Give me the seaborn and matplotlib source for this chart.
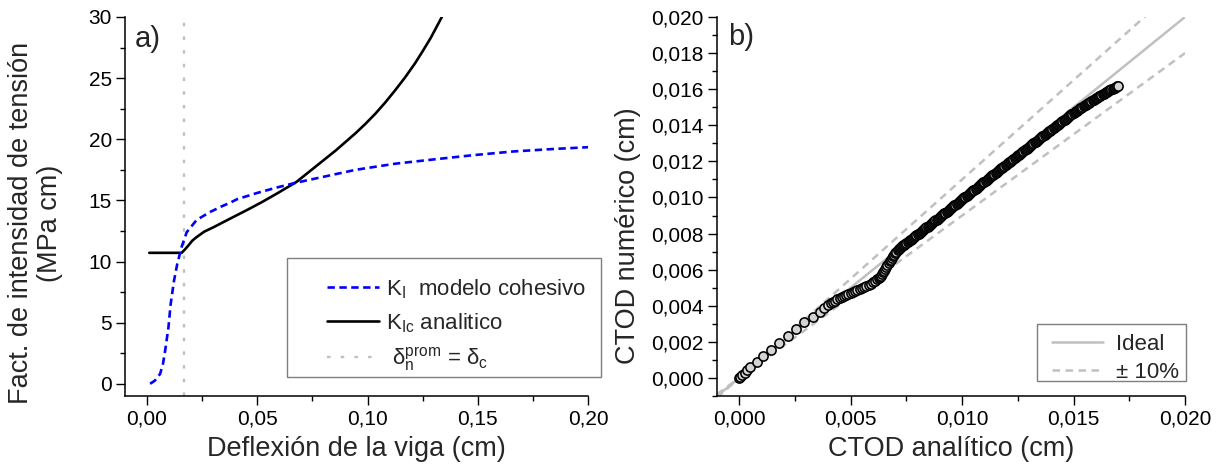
import numpy as np
import pandas as pd
import seaborn as sns
import matplotlib
matplotlib.use("Agg")
import matplotlib.pyplot as plt
from matplotlib.ticker import MultipleLocator
from matplotlib.patches import Rectangle

# ---------------- data: panel a ----------------
ki_defl = [0.0014, 0.0035, 0.0059, 0.0072, 0.0082, 0.0097, 0.0107, 0.0122, 0.0137,
           0.0157, 0.0180, 0.0225, 0.0286, 0.0337, 0.0376, 0.0409, 0.0498, 0.0588,
           0.0677, 0.0767, 0.0946, 0.1125, 0.1305, 0.1480, 0.1660, 0.1840, 0.2000]
ki_val = [0.0, 0.25, 0.8, 1.6, 2.7, 4.6, 6.5, 8.4, 9.8,
          11.2, 12.4, 13.4, 14.05, 14.5, 14.8, 15.1, 15.6, 16.05,
          16.45, 16.8, 17.5, 18.0, 18.36, 18.7, 19.0, 19.2, 19.35]

kic_defl = [0.0010, 0.0157, 0.0170, 0.0187, 0.0205, 0.0225, 0.0260, 0.0301, 0.0376,
            0.0452, 0.0520, 0.0588, 0.0677, 0.0767, 0.0857, 0.0946, 0.0990, 0.1036,
            0.1080, 0.1125, 0.1170, 0.1215, 0.1250, 0.1287, 0.1337]
kic_val = [10.71, 10.71, 10.95, 11.3, 11.7, 12.0, 12.45, 12.8, 13.5,
           14.2, 14.85, 15.55, 16.5, 17.8, 19.1, 20.5, 21.25, 22.1,
           23.0, 24.0, 25.05, 26.2, 27.2, 28.3, 30.0]

delta_c = 0.0169

a_xticks = [0.00, 0.05, 0.10, 0.15, 0.20]
a_xticklabels = ["0,00", "0,05", "0,10", "0,15", "0,20"]
a_yticks = [0, 5, 10, 15, 20, 25, 30]
a_yticklabels = ["0", "5", "10", "15", "20", "25", "30"]

# ---------------- data: panel b (units of 1e-3 cm) ----------------
ctod_ana_e3 = [
    0.00, 0.05, 0.14, 0.25, 0.36, 0.50, 0.78, 1.08, 1.41, 1.79, 2.17, 2.54, 2.92, 3.30, 3.60, 3.82,
    4.0, 4.1, 4.2, 4.3, 4.4, 4.5, 4.6, 4.7, 4.8, 4.9,
    5.0, 5.1, 5.2, 5.3, 5.4, 5.5, 5.6, 5.7, 5.8, 5.9,
    6.0, 6.1, 6.2, 6.3, 6.4, 6.5, 6.6, 6.7, 6.8, 6.9,
    7.0, 7.1, 7.2, 7.3, 7.4, 7.5, 7.6, 7.7, 7.8, 7.9,
    8.0, 8.1, 8.2, 8.3, 8.4, 8.5, 8.6, 8.7, 8.8, 8.9,
    9.0, 9.1, 9.2, 9.3, 9.4, 9.5, 9.6, 9.7, 9.8, 9.9,
    10.0, 10.1, 10.2, 10.3, 10.4, 10.5, 10.6, 10.7, 10.8, 10.9,
    11.0, 11.1, 11.2, 11.3, 11.4, 11.5, 11.6, 11.7, 11.8, 11.9,
    12.0, 12.1, 12.2, 12.3, 12.4, 12.5, 12.6, 12.7, 12.8, 12.9,
    13.0, 13.1, 13.2, 13.3, 13.4, 13.5, 13.6, 13.7, 13.8, 13.9,
    14.0, 14.1, 14.2, 14.3, 14.4, 14.5, 14.6, 14.7, 14.8, 14.9,
    15.0, 15.1, 15.2, 15.3, 15.4, 15.5, 15.6, 15.7, 15.8, 15.9,
    16.0, 16.1, 16.2, 16.3, 16.4, 16.5, 16.6, 16.7, 16.8, 16.9,
    17.0]
ctod_num_e3 = [
    0.00, 0.06, 0.17, 0.30, 0.44, 0.63, 0.87, 1.22, 1.55, 1.92, 2.33, 2.71, 3.08, 3.40, 3.67, 3.90,
    4.05, 4.13, 4.20, 4.28, 4.35, 4.41, 4.48, 4.54, 4.60, 4.66,
    4.71, 4.77, 4.83, 4.88, 4.94, 5.00, 5.05, 5.11, 5.17, 5.23,
    5.30, 5.37, 5.47, 5.59, 5.75, 5.95, 6.15, 6.36, 6.56, 6.75,
    6.92, 7.07, 7.19, 7.30, 7.39, 7.49, 7.58, 7.67, 7.76, 7.86,
    7.95, 8.05, 8.14, 8.24, 8.34, 8.44, 8.53, 8.63, 8.73, 8.82,
    8.92, 9.02, 9.12, 9.21, 9.31, 9.41, 9.51, 9.61, 9.70, 9.80,
    9.90, 10.00, 10.10, 10.19, 10.29, 10.39, 10.49, 10.59, 10.68, 10.78,
    10.88, 10.98, 11.07, 11.17, 11.27, 11.37, 11.46, 11.56, 11.66, 11.75,
    11.85, 11.95, 12.04, 12.14, 12.23, 12.33, 12.43, 12.52, 12.62, 12.71,
    12.81, 12.91, 13.00, 13.10, 13.19, 13.29, 13.38, 13.48, 13.57, 13.67,
    13.76, 13.85, 13.95, 14.04, 14.14, 14.23, 14.32, 14.41, 14.51, 14.60,
    14.69, 14.77, 14.85, 14.94, 15.02, 15.10, 15.18, 15.26, 15.34, 15.42,
    15.50, 15.57, 15.64, 15.72, 15.79, 15.86, 15.93, 16.00, 16.06, 16.13,
    16.20]

# additional readings along the densely packed part of the band
ctod_ana_b_e3 = [
    6.25, 6.35, 6.45, 6.55, 6.65, 6.75, 6.85, 6.95,
    7.05, 7.15, 7.25, 7.35, 7.45, 7.55, 7.65, 7.75, 7.85, 7.95,
    8.05, 8.15, 8.25, 8.35, 8.45, 8.55, 8.65, 8.75, 8.85, 8.95,
    9.05, 9.15, 9.25, 9.35, 9.45, 9.55, 9.65, 9.75, 9.85, 9.95,
    10.05, 10.15, 10.25, 10.35, 10.45, 10.55, 10.65, 10.75, 10.85, 10.95,
    11.05, 11.15, 11.25, 11.35, 11.45, 11.55, 11.65, 11.75, 11.85, 11.95,
    12.05, 12.15, 12.25, 12.35, 12.45, 12.55, 12.65, 12.75, 12.85, 12.95,
    13.05, 13.15, 13.25, 13.35, 13.45, 13.55, 13.65, 13.75, 13.85, 13.95,
    14.05, 14.15, 14.25, 14.35, 14.45, 14.55, 14.65, 14.75, 14.85, 14.95,
    15.05, 15.15, 15.25, 15.35, 15.45, 15.55, 15.65, 15.75, 15.85, 15.95,
    16.05, 16.15, 16.25, 16.35, 16.45, 16.55, 16.65, 16.75, 16.85, 16.95]
ctod_num_b_e3 = [
    5.53, 5.67, 5.85, 6.05, 6.25, 6.46, 6.66, 6.84,
    7.00, 7.13, 7.25, 7.35, 7.44, 7.53, 7.62, 7.71, 7.81, 7.90,
    8.00, 8.09, 8.19, 8.29, 8.39, 8.48, 8.58, 8.68, 8.77, 8.87,
    8.97, 9.07, 9.16, 9.26, 9.36, 9.46, 9.56, 9.65, 9.75, 9.85,
    9.95, 10.05, 10.14, 10.24, 10.34, 10.44, 10.54, 10.63, 10.73, 10.83,
    10.93, 11.02, 11.12, 11.22, 11.32, 11.41, 11.51, 11.61, 11.70, 11.80,
    11.90, 11.99, 12.09, 12.18, 12.28, 12.38, 12.47, 12.57, 12.66, 12.76,
    12.86, 12.95, 13.05, 13.14, 13.24, 13.33, 13.43, 13.52, 13.62, 13.71,
    13.80, 13.90, 13.99, 14.09, 14.18, 14.27, 14.36, 14.46, 14.55, 14.64,
    14.73, 14.81, 14.89, 14.98, 15.06, 15.14, 15.22, 15.30, 15.38, 15.46,
    15.53, 15.60, 15.68, 15.75, 15.82, 15.89, 15.96, 16.03, 16.09, 16.16]

guide_x = [-0.001, 0.020]
guide_factors = [1.0, 1.1, 0.9]

b_ticks = [0.000, 0.002, 0.004, 0.006, 0.008, 0.010, 0.012, 0.014, 0.016, 0.018, 0.020]
b_yticklabels = ["0,000", "0,002", "0,004", "0,006", "0,008", "0,010",
                 "0,012", "0,014", "0,016", "0,018", "0,020"]
b_xticks = [0.000, 0.005, 0.010, 0.015, 0.020]
b_xticklabels = ["0,000", "0,005", "0,010", "0,015", "0,020"]

# ---------------- style ----------------
sns.set_theme(style="ticks")
plt.rcParams["font.family"] = ["Liberation Sans", "DejaVu Sans"]
plt.rcParams["mathtext.fontset"] = "custom"
plt.rcParams["mathtext.rm"] = "Liberation Sans"
plt.rcParams["mathtext.it"] = "Liberation Sans:italic"
plt.rcParams["mathtext.default"] = "regular"
plt.rcParams["axes.edgecolor"] = "black"
plt.rcParams["axes.linewidth"] = 1.1

W, H = 1223, 470
fig = plt.figure(figsize=(W / 100, H / 100), dpi=100)


def px_axes(l, t, r, b):
    return fig.add_axes([l / W, 1 - b / H, (r - l) / W, (b - t) / H])


ax1 = px_axes(125, 17, 588, 396)
ax2 = px_axes(717, 17, 1185, 396)

TICK_FS = 15
LABEL_FS = 19.5
LEG_FS = 16
GRAY = "#c0c0c0"

# ---------------- panel a ----------------
l_gray = ax1.axvline(delta_c, color=GRAY, lw=1.7, linestyle=(0, (1.5, 4.3)), zorder=1)
sns.lineplot(x=kic_defl, y=kic_val, ax=ax1, color="black", lw=1.9,
             estimator=None, sort=False, zorder=2)
l_black = ax1.lines[-1]
sns.lineplot(x=ki_defl, y=ki_val, ax=ax1, color="#0000ff", lw=1.9,
             estimator=None, sort=False, zorder=3)
l_blue = ax1.lines[-1]
l_blue.set_linestyle((0, (2.8, 1.7)))

ax1.set_xlim(-0.01, 0.20)
ax1.set_ylim(-1, 30)
ax1.set_xticks(a_xticks)
ax1.set_xticklabels(a_xticklabels)
ax1.set_yticks(a_yticks)
ax1.set_yticklabels(a_yticklabels)
ax1.xaxis.set_minor_locator(MultipleLocator(0.025))
ax1.yaxis.set_minor_locator(MultipleLocator(2.5))
ax1.set_xlabel("Deflexión de la viga (cm)", fontsize=LABEL_FS)
ax1.set_ylabel("Fact. de intensidad de tensión\n(MPa cm)", fontsize=LABEL_FS,
               multialignment="center", linespacing=1.15)
ax1.xaxis.set_label_coords(0.5, -0.105)
ax1.yaxis.set_label_coords(-0.134, 0.456)
ax1.text(0.022, 0.978, "a)", transform=ax1.transAxes, fontsize=21, va="top", ha="left")

leg1 = ax1.legend(handles=[l_blue, l_black, l_gray],
                  labels=["K$_{I}$  modelo cohesivo", "K$_{Ic}$ analitico",
                          " $\\delta_{n}^{prom}$ = $\\delta_{c}$"],
                  loc="upper left", bbox_to_anchor=(327 / W, 1 - 277 / H),
                  bbox_transform=fig.transFigure, frameon=False, borderpad=0,
                  borderaxespad=0, handlelength=2.35, handletextpad=0.3,
                  labelspacing=0.47, fontsize=LEG_FS)
leg1.set_zorder(6)
ax1.add_patch(Rectangle((287 / W, 1 - 377 / H), 314 / W, 119 / H,
                        transform=fig.transFigure, facecolor="white",
                        edgecolor="#7f7f7f", lw=1.0, clip_on=False, zorder=5))

# ---------------- panel b ----------------
ctod = pd.DataFrame({
    "analitico": np.array(ctod_ana_e3 + ctod_ana_b_e3) * 1e-3,
    "numerico": np.array(ctod_num_e3 + ctod_num_b_e3) * 1e-3,
}).sort_values("analitico", kind="stable")
gx = np.array(guide_x)

sns.lineplot(x=gx, y=gx * guide_factors[0], ax=ax2, color=GRAY, lw=1.8,
             estimator=None, sort=False, zorder=1)
l_ideal = ax2.lines[-1]
sns.lineplot(x=gx, y=gx * guide_factors[1], ax=ax2, color=GRAY, lw=1.8,
             estimator=None, sort=False, zorder=1)
l_up = ax2.lines[-1]
sns.lineplot(x=gx, y=gx * guide_factors[2], ax=ax2, color=GRAY, lw=1.8,
             estimator=None, sort=False, zorder=1)
l_dn = ax2.lines[-1]
for ln in (l_up, l_dn):
    ln.set_linestyle((0, (3.0, 2.2)))

sns.scatterplot(data=ctod, x="analitico", y="numerico", ax=ax2, s=44,
                color="#d4d4d4", edgecolor="black", linewidth=1.15,
                zorder=3, legend=False)

ax2.set_xlim(-0.001, 0.020)
ax2.set_ylim(-0.001, 0.020)
ax2.set_xticks(b_xticks)
ax2.set_xticklabels(b_xticklabels)
ax2.set_yticks(b_ticks)
ax2.set_yticklabels(b_yticklabels)
ax2.xaxis.set_minor_locator(MultipleLocator(0.0025))
ax2.yaxis.set_minor_locator(MultipleLocator(0.001))
ax2.set_xlabel("CTOD analítico (cm)", fontsize=LABEL_FS)
ax2.set_ylabel("CTOD numérico (cm)", fontsize=LABEL_FS)
ax2.xaxis.set_label_coords(0.5, -0.105)
ax2.yaxis.set_label_coords(-0.162, 0.422)
ax2.text(0.023, 0.985, "b)", transform=ax2.transAxes, fontsize=21, va="top", ha="left")

leg2 = ax2.legend(handles=[l_ideal, l_up], labels=["Ideal", "± 10%"],
                  loc="upper left", bbox_to_anchor=(1052 / W, 1 - 334 / H),
                  bbox_transform=fig.transFigure, frameon=False, borderpad=0,
                  borderaxespad=0, handlelength=2.3, handletextpad=0.6,
                  labelspacing=0.3, fontsize=LEG_FS)
leg2.set_zorder(6)
ax2.add_patch(Rectangle((1037 / W, 1 - 381 / H), 149 / W, 57 / H,
                        transform=fig.transFigure, facecolor="white",
                        edgecolor="#7f7f7f", lw=1.0, clip_on=False, zorder=5))

for ax in (ax1, ax2):
    ax.spines["top"].set_visible(False)
    ax.spines["right"].set_visible(False)
    ax.tick_params(which="both", direction="out", colors="black", width=1.0,
                   top=False, right=False)
    ax.tick_params(which="major", length=6.5, labelsize=TICK_FS, pad=3)
    ax.tick_params(which="minor", length=3.5)
    ax.grid(False)

fig.savefig("out.png", dpi=100)
